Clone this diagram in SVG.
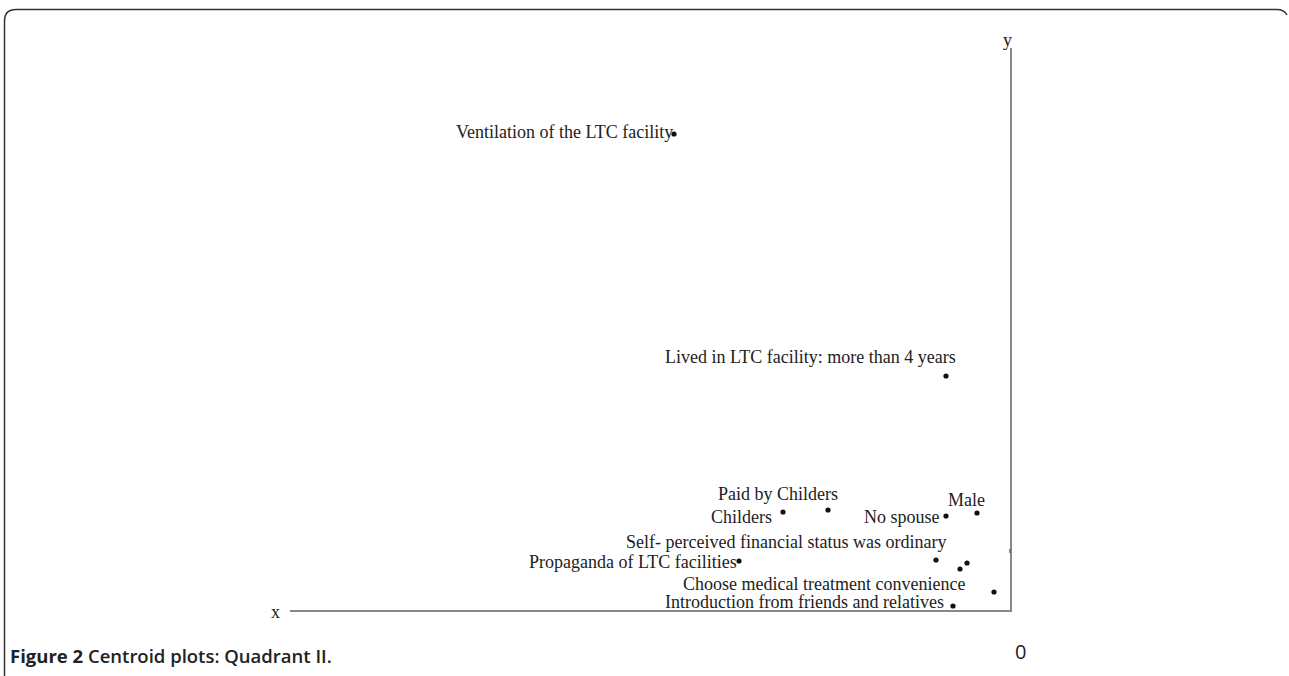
<svg xmlns="http://www.w3.org/2000/svg" width="1289" height="676" viewBox="0 0 1289 676">
<style>
.lbl{font-family:"Liberation Serif",serif;font-size:18px;fill:#222}
.dot{fill:#111}
.axis{stroke:#888;stroke-width:2;fill:none}
.frame{stroke:#333;stroke-width:1.5;fill:none}
</style>
<rect width="1289" height="676" fill="#fff"/>
<path class="frame" d="M4.5,676 L4.5,21 Q4.5,9.5 16,9.5 L1277,9.5 Q1284,9.5 1287,15"/>
<g id="axes">
<line class="axis" x1="1011" y1="48" x2="1011" y2="612"/>
<line class="axis" x1="290" y1="611" x2="1012" y2="611"/>
<line x1="1010" y1="549" x2="1010" y2="553" stroke="#666" stroke-width="1.5"/>
<text class="lbl" x="271" y="618">x</text>
<text class="lbl" x="1003" y="46">y</text>
<text x="1015" y="659" font-family="Open Sans, sans-serif" font-size="20" fill="#222">0</text>
</g>
<g id="n-ventilation"><circle class="dot" cx="674" cy="134" r="2.6"/><text class="lbl" x="456" y="138">Ventilation of the LTC facility</text></g>
<g id="n-lived"><circle class="dot" cx="946" cy="376" r="2.6"/><text class="lbl" x="665" y="363">Lived in LTC facility: more than 4 years</text></g>
<g id="n-paid"><circle class="dot" cx="828" cy="510" r="2.6"/><text class="lbl" x="718" y="500">Paid by Childers</text></g>
<g id="n-childers"><circle class="dot" cx="783" cy="512" r="2.6"/><text class="lbl" x="711" y="523">Childers</text></g>
<g id="n-nospouse"><circle class="dot" cx="946" cy="516" r="2.6"/><text class="lbl" x="864" y="523">No spouse</text></g>
<g id="n-male"><circle class="dot" cx="977" cy="513" r="2.6"/><text class="lbl" x="948" y="506">Male</text></g>
<g id="n-self"><circle class="dot" cx="936" cy="560" r="2.6"/><text class="lbl" x="626" y="548">Self- perceived financial status was ordinary</text></g>
<g id="n-p2"><circle class="dot" cx="967" cy="563" r="2.6"/></g>
<g id="n-p3"><circle class="dot" cx="960" cy="569" r="2.6"/></g>
<g id="n-propaganda"><circle class="dot" cx="739" cy="561" r="2.6"/><text class="lbl" x="529" y="568">Propaganda of LTC facilities</text></g>
<g id="n-choose"><circle class="dot" cx="994" cy="592" r="2.6"/><text class="lbl" x="683" y="590">Choose medical treatment convenience</text></g>
<g id="n-intro"><circle class="dot" cx="953" cy="606" r="2.6"/><text class="lbl" x="665" y="607.5">Introduction from friends and relatives</text></g>
<text x="10" y="663" font-family="Open Sans, sans-serif" font-size="18.5" fill="#222" font-weight="600"><tspan font-weight="700">Figure 2</tspan> Centroid plots: Quadrant II.</text>
</svg>
